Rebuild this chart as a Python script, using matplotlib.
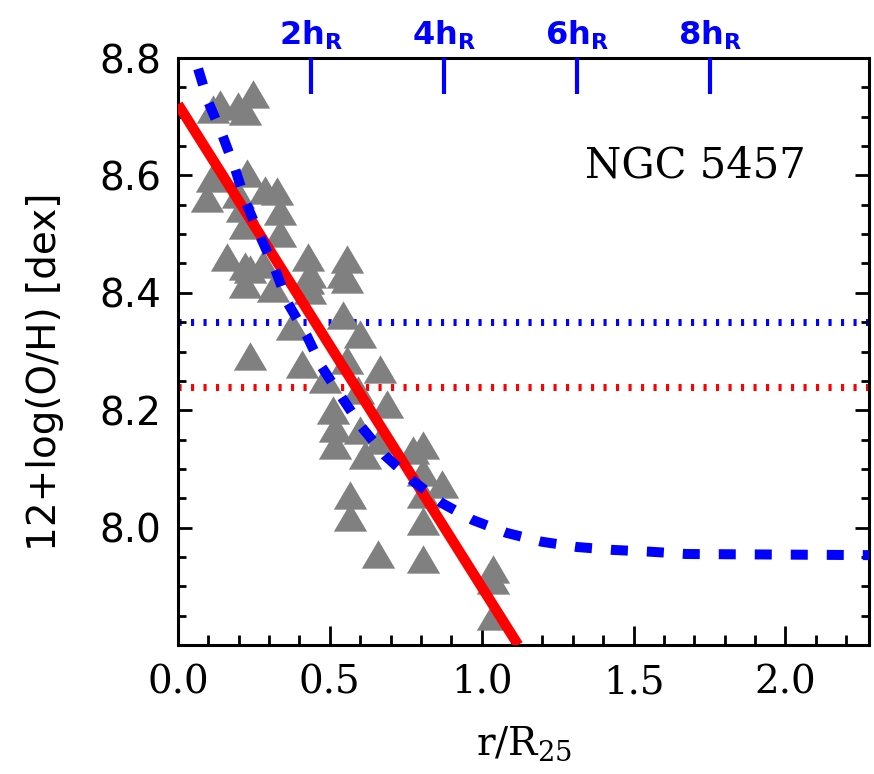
"""
NGC 5457 radial oxygen abundance gradient
"""

import numpy as np
import matplotlib
matplotlib.use('Agg')
import matplotlib.pyplot as plt

# HII region abundances (r/R25, 12+log(O/H))
r_hii = [0.115, 0.138, 0.197, 0.220, 0.247, 0.112, 0.095, 0.227, 0.197, 0.286,
         0.326, 0.211, 0.336, 0.220, 0.336, 0.161, 0.220, 0.220, 0.280, 0.237,
         0.428, 0.428, 0.556, 0.556, 0.434, 0.543, 0.312, 0.434, 0.543, 0.375,
         0.599, 0.237, 0.408, 0.556, 0.664, 0.484, 0.592, 0.688, 0.510, 0.516,
         0.516, 0.773, 0.806, 0.806, 0.868, 0.806, 0.806, 0.566, 0.566, 0.658,
         0.806, 1.036, 1.036, 1.036, 0.599, 0.664, 0.615]
oh_hii = [8.713, 8.721, 8.718, 8.709, 8.738, 8.595, 8.561, 8.604, 8.568, 8.575,
          8.573, 8.544, 8.539, 8.516, 8.502, 8.461, 8.446, 8.415, 8.449, 8.441,
          8.461, 8.421, 8.458, 8.424, 8.432, 8.432, 8.409, 8.404, 8.363, 8.344,
          8.329, 8.292, 8.278, 8.285, 8.271, 8.254, 8.234, 8.210, 8.200, 8.169,
          8.140, 8.132, 8.140, 8.095, 8.074, 8.057, 8.011, 8.056, 8.018, 7.955,
          7.947, 7.930, 7.911, 7.849, 8.166, 8.149, 8.123]

# linear fit (red)
r_fit = [0.0, 1.12]
oh_fit = [8.721, 7.800]

# model curve (blue dashed)
r_model = [0.03, 0.066, 0.099, 0.145, 0.188, 0.224, 0.270, 0.319, 0.362, 0.424,
           0.474, 0.539, 0.605, 0.681, 0.770, 0.868, 0.970, 1.082, 1.197, 1.313,
           1.431, 1.553, 1.674, 2.0, 2.3]
oh_model = [8.84, 8.782, 8.726, 8.670, 8.611, 8.553, 8.497, 8.441, 8.382, 8.327,
            8.273, 8.222, 8.171, 8.123, 8.081, 8.042, 8.013, 7.991, 7.976, 7.967,
            7.962, 7.959, 7.955, 7.954, 7.953]

# reference levels
oh_blue_level = 8.35
oh_red_level = 8.24

# disc scale length ticks
hr_pos = [0.4375, 0.875, 1.3125, 1.75]
hr_labels = [r'$\mathbf{2h_R}$', r'$\mathbf{4h_R}$', r'$\mathbf{6h_R}$', r'$\mathbf{8h_R}$']

x_ticks = [0.0, 0.5, 1.0, 1.5, 2.0]
y_ticks = [8.0, 8.2, 8.4, 8.6, 8.8]


def main():
    plt.rcParams['mathtext.fontset'] = 'dejavusans'
    fig = plt.figure(figsize=(8.74, 7.74), dpi=100)
    ax = fig.add_axes([178 / 874, 1 - 645 / 774, 691 / 874, 587 / 774])

    tri = [(-1, -0.85), (1, -0.85), (0, 0.85)]
    ax.plot(r_hii, oh_hii, linestyle='none', marker=tri, ms=24,
            color='#808080', mec='none', zorder=2)

    ax.axhline(oh_blue_level, color='blue', lw=5, dashes=(0.45, 1.35),
               dash_capstyle='butt', zorder=1)
    ax.axhline(oh_red_level, color='red', lw=5, dashes=(0.45, 1.35),
               dash_capstyle='butt', zorder=1)

    ax.plot(r_fit, oh_fit, color='red', lw=7.5, solid_capstyle='butt', zorder=3)
    ax.plot(r_model, oh_model, color='blue', lw=7.2, dashes=(1.7, 1.9),
            dash_capstyle='butt', zorder=4)

    ax.set_xlim(0, 2.275)
    ax.set_ylim(7.8, 8.8)

    ax.set_xticks(x_ticks)
    ax.set_xticks(np.arange(0, 2.3, 0.1), minor=True)
    ax.set_xticklabels(['%.1f' % v for v in x_ticks], family='DejaVu Serif', fontsize=28)
    ax.set_yticks(y_ticks)
    ax.set_yticks(np.arange(7.8, 8.81, 0.05), minor=True)
    ax.set_yticklabels(['%.1f' % v for v in y_ticks], family='DejaVu Sans', fontsize=28)

    ax.tick_params(which='both', direction='in', top=True, right=True, width=2, color='black')
    ax.tick_params(axis='x', which='major', length=14, pad=14)
    ax.tick_params(axis='x', which='minor', length=7)
    ax.tick_params(axis='y', which='major', length=10, pad=12)
    ax.tick_params(axis='y', which='minor', length=6)
    for s in ax.spines.values():
        s.set_linewidth(2.2)

    ax.set_xlabel(r'$\mathdefault{r/R_{25}}$', family='DejaVu Serif', fontsize=28)
    ax.xaxis.set_label_coords(0.5, -0.135)
    ax.set_ylabel('12+log(O/H) [dex]', family='DejaVu Sans', fontsize=28)
    ax.yaxis.set_label_coords(-0.165, 0.465)

    ax.text(0.589, 0.797, 'NGC 5457', transform=ax.transAxes, family='DejaVu Serif',
            fontsize=30, va='baseline', ha='left')

    # scale length axis on top
    ax2 = ax.twiny()
    ax2.set_xlim(ax.get_xlim())
    ax2.set_xticks(hr_pos)
    ax2.set_xticklabels(hr_labels, fontsize=23, color='blue')
    ax2.tick_params(axis='x', direction='in', length=26, width=3, color='blue', pad=4)
    for s in ax2.spines.values():
        s.set_visible(False)

    fig.savefig('out.png', dpi=100)


if __name__ == '__main__':
    main()
